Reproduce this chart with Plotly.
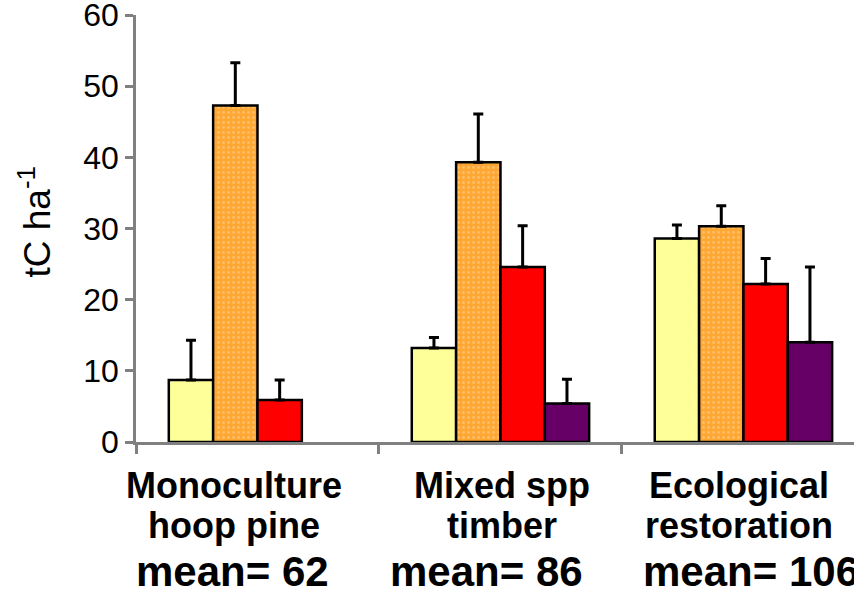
import plotly.graph_objects as go

categories = ["Monoculture hoop pine", "Mixed spp timber", "Ecological restoration"]
cat_line1 = ["Monoculture", "Mixed spp", "Ecological"]
cat_line2 = ["hoop pine", "timber", "restoration"]
means = ["mean= 62", "mean= 86", "mean= 106"]

series_names = ["A", "B", "C", "D"]
values = [
    [8.7, 13.2, 28.6],
    [47.3, 39.3, 30.3],
    [5.9, 24.6, 22.2],
    [None, 5.4, 14.0],
]
errors = [
    [5.6, 1.5, 1.9],
    [6.0, 6.8, 2.9],
    [2.8, 5.8, 3.6],
    [0, 3.4, 10.6],
]
colors = ["#FFFF99", "#FFA733", "#FF0000", "#660066"]

fig = go.Figure()
for i in range(4):
    marker = dict(color=colors[i], line=dict(color="black", width=2.5))
    if i == 1:
        marker["pattern"] = dict(shape=".", fgcolor="#FFD59A", size=5, solidity=0.25)
    fig.add_trace(go.Bar(
        x=categories, y=values[i], name=series_names[i], marker=marker,
        error_y=dict(type="data", array=errors[i], arrayminus=[0]*3, symmetric=False,
                     color="black", thickness=3, width=5),
    ))

font_family = "Liberation Sans, Arial, sans-serif"
fig.update_layout(
    width=854, height=598,
    margin=dict(l=136, r=0, t=15, b=156, autoexpand=False),
    barmode="group", bargap=0.27, bargroupgap=0,
    plot_bgcolor="white", paper_bgcolor="white",
    showlegend=False,
    font=dict(family=font_family, color="black"),
    xaxis=dict(type="category", range=[-0.5, 2.455], showticklabels=False, automargin=False,
               showline=True, linecolor="#808080", linewidth=2.5,
               ticks="outside", tickson="boundaries", ticklen=9, tickwidth=2.5,
               tickcolor="#808080", showgrid=False, zeroline=False),
    yaxis=dict(range=[0, 60], dtick=10, showline=True, linecolor="#808080", linewidth=2.5,
               automargin=False, ticks="outside", ticklen=8, tickwidth=2.5, tickcolor="#808080",
               showgrid=False, zeroline=False, ticklabeloverflow="allow",
               tickfont=dict(size=32, family=font_family, color="black")),
)

# y-axis title
fig.add_annotation(text="tC ha<sup>-1</sup>", xref="paper", yref="paper", x=0, y=0.5,
                   xanchor="center", yanchor="middle", xshift=-101, yshift=6,
                   textangle=-90, showarrow=False,
                   font=dict(size=37, family=font_family, color="black"))

shifts1 = [-23, 2, -4]
shifts_mean = [-25, -14, 8]
for j in range(3):
    fig.add_annotation(text="<b>%s</b>" % cat_line1[j], x=j, xref="x", yref="paper", y=0,
                       yanchor="middle", xanchor="center", xshift=shifts1[j], yshift=-43,
                       showarrow=False, font=dict(size=36, family=font_family, color="black"))
    fig.add_annotation(text="<b>%s</b>" % cat_line2[j], x=j, xref="x", yref="paper", y=0,
                       yanchor="middle", xanchor="center", xshift=shifts1[j], yshift=-83,
                       showarrow=False, font=dict(size=36, family=font_family, color="black"))
    fig.add_annotation(text="<b>%s</b>" % means[j], x=j, xref="x", yref="paper", y=0,
                       yanchor="middle", xanchor="center", xshift=shifts_mean[j], yshift=-129,
                       showarrow=False, font=dict(size=42, family=font_family, color="black"))

fig.write_html("out.html", config={"displayModeBar": False},
               post_script="document.body.style.margin='0';")
